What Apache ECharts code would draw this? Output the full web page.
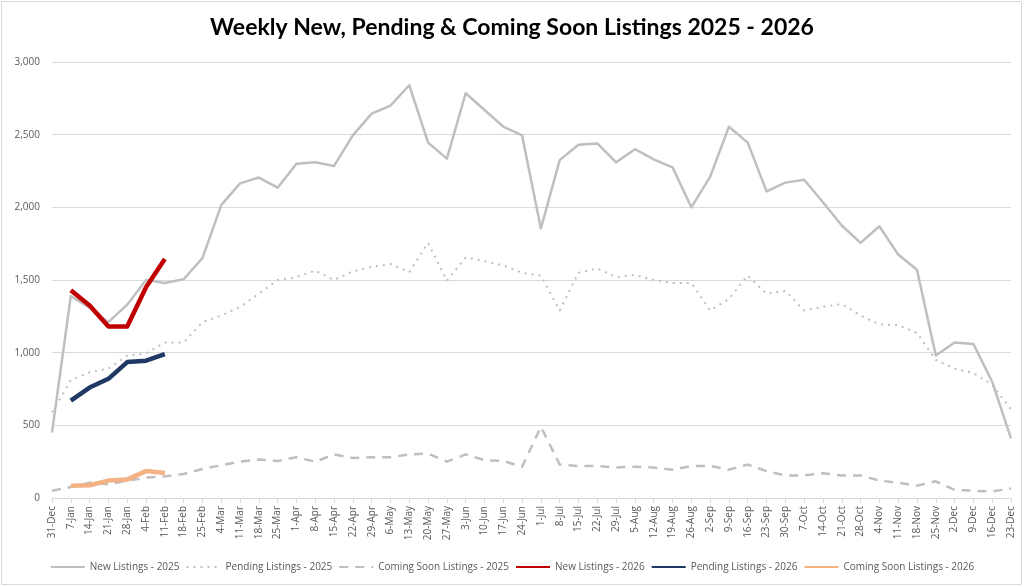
<!DOCTYPE html>
<html>
<head>
<meta charset="utf-8">
<script src="https://cdn.jsdelivr.net/npm/echarts@6/dist/echarts.min.js"></script>
<style>html,body{margin:0;padding:0;background:#fff}#c{width:1024px;height:587px}</style>
</head>
<body>
<div id="c"></div>
<script>
var categories = ['31-Dec','7-Jan','14-Jan','21-Jan','28-Jan','4-Feb','11-Feb','18-Feb','25-Feb','4-Mar','11-Mar','18-Mar','25-Mar','1-Apr','8-Apr','15-Apr','22-Apr','29-Apr','6-May','13-May','20-May','27-May','3-Jun','10-Jun','17-Jun','24-Jun','1-Jul','8-Jul','15-Jul','22-Jul','29-Jul','5-Aug','12-Aug','19-Aug','26-Aug','2-Sep','9-Sep','16-Sep','23-Sep','30-Sep','7-Oct','14-Oct','21-Oct','28-Oct','4-Nov','11-Nov','18-Nov','25-Nov','2-Dec','9-Dec','16-Dec','23-Dec'];
var newListings2025 = [450,1390,1310,1210,1330,1500,1480,1505,1650,2015,2165,2205,2135,2300,2310,2285,2495,2645,2700,2840,2445,2335,2785,2670,2555,2495,1855,2325,2430,2440,2310,2400,2330,2275,2000,2210,2555,2445,2110,2170,2190,2035,1875,1755,1870,1675,1570,980,1070,1060,800,410];
var pendingListings2025 = [590,810,865,890,980,995,1070,1070,1210,1255,1315,1405,1500,1520,1565,1500,1560,1590,1610,1555,1755,1495,1655,1630,1600,1550,1530,1290,1550,1580,1520,1535,1500,1480,1480,1290,1370,1530,1405,1425,1290,1315,1335,1255,1195,1190,1135,950,890,860,780,610];
var comingSoon2025 = [50,75,105,95,120,140,150,165,200,225,250,265,255,280,250,300,275,280,280,300,305,250,300,260,255,215,490,230,220,220,210,215,210,195,220,220,195,230,185,155,155,170,155,155,120,105,85,115,55,50,45,65];
var newListings2026 = [null,1430,1325,1180,1180,1450,1645];
var pendingListings2026 = [null,670,760,820,935,945,990];
var comingSoon2026 = [null,85,88,120,128,185,172];
var yTicks = [0,500,1000,1500,2000,2500,3000];

var chart = echarts.init(document.getElementById('c'), null, {renderer:'canvas'});
function line(name, data, color, width, type, z){
  return {name:name, type:'line', data:data, symbol:'none', z:z,
    lineStyle:{color:color, width:width, type:type, join:'round'},
    itemStyle:{color:color}, connectNulls:false, animation:false};
}
chart.setOption({
  animation:false,
  title:{text:'Weekly New, Pending & Coming Soon Listings 2025 - 2026', left:'center', top:11,
    textStyle:{fontFamily:'Lato', fontWeight:'bold', fontSize:23, color:'#000'}},
  graphic:[{type:'rect', shape:{x:1.5,y:1.5,width:1020,height:583}, style:{fill:'none', stroke:'#d9d9d9', lineWidth:1}, silent:true}],
  legend:{bottom:10, left:'center', itemWidth:34, itemHeight:10, itemGap:6,
    itemStyle:{opacity:0},
    textStyle:{fontFamily:'Open Sans', fontSize:10, color:'#595959'},
    data:['New Listings - 2025','Pending Listings - 2025','Coming Soon Listings - 2025','New Listings - 2026','Pending Listings - 2026','Coming Soon Listings - 2026']},
  grid:{left:52, right:13, top:62, bottom:89, containLabel:false},
  xAxis:{type:'category', data:categories, boundaryGap:false,
    axisLine:{lineStyle:{color:'#d9d9d9'}},
    axisTick:{alignWithLabel:true, length:5, lineStyle:{color:'#d9d9d9'}},
    axisLabel:{rotate:90, interval:0, fontFamily:'Open Sans', fontSize:10, color:'#595959', margin:8}},
  yAxis:{type:'value', min:0, max:3000, interval:500,
    axisLine:{show:false}, axisTick:{show:false},
    splitLine:{lineStyle:{color:'#d9d9d9'}},
    axisLabel:{fontFamily:'Open Sans', fontSize:10, color:'#595959', margin:12,
      formatter:function(v){return yTicks.indexOf(v)>=0 ? v.toLocaleString('en-US') : '';}}},
  series:[
    line('New Listings - 2025', newListings2025, '#bfbfbf', 2.5, 'solid', 2),
    line('Pending Listings - 2025', pendingListings2025, '#bfbfbf', 2, [2,5], 2),
    line('Coming Soon Listings - 2025', comingSoon2025, '#bfbfbf', 2.5, [9,7], 2),
    line('New Listings - 2026', newListings2026, '#c00000', 4.5, 'solid', 3),
    line('Pending Listings - 2026', pendingListings2026, '#1f3864', 4.5, 'solid', 3),
    line('Coming Soon Listings - 2026', comingSoon2026, '#f4b183', 4.5, 'solid', 3)
  ]
});
</script>
</body>
</html>
